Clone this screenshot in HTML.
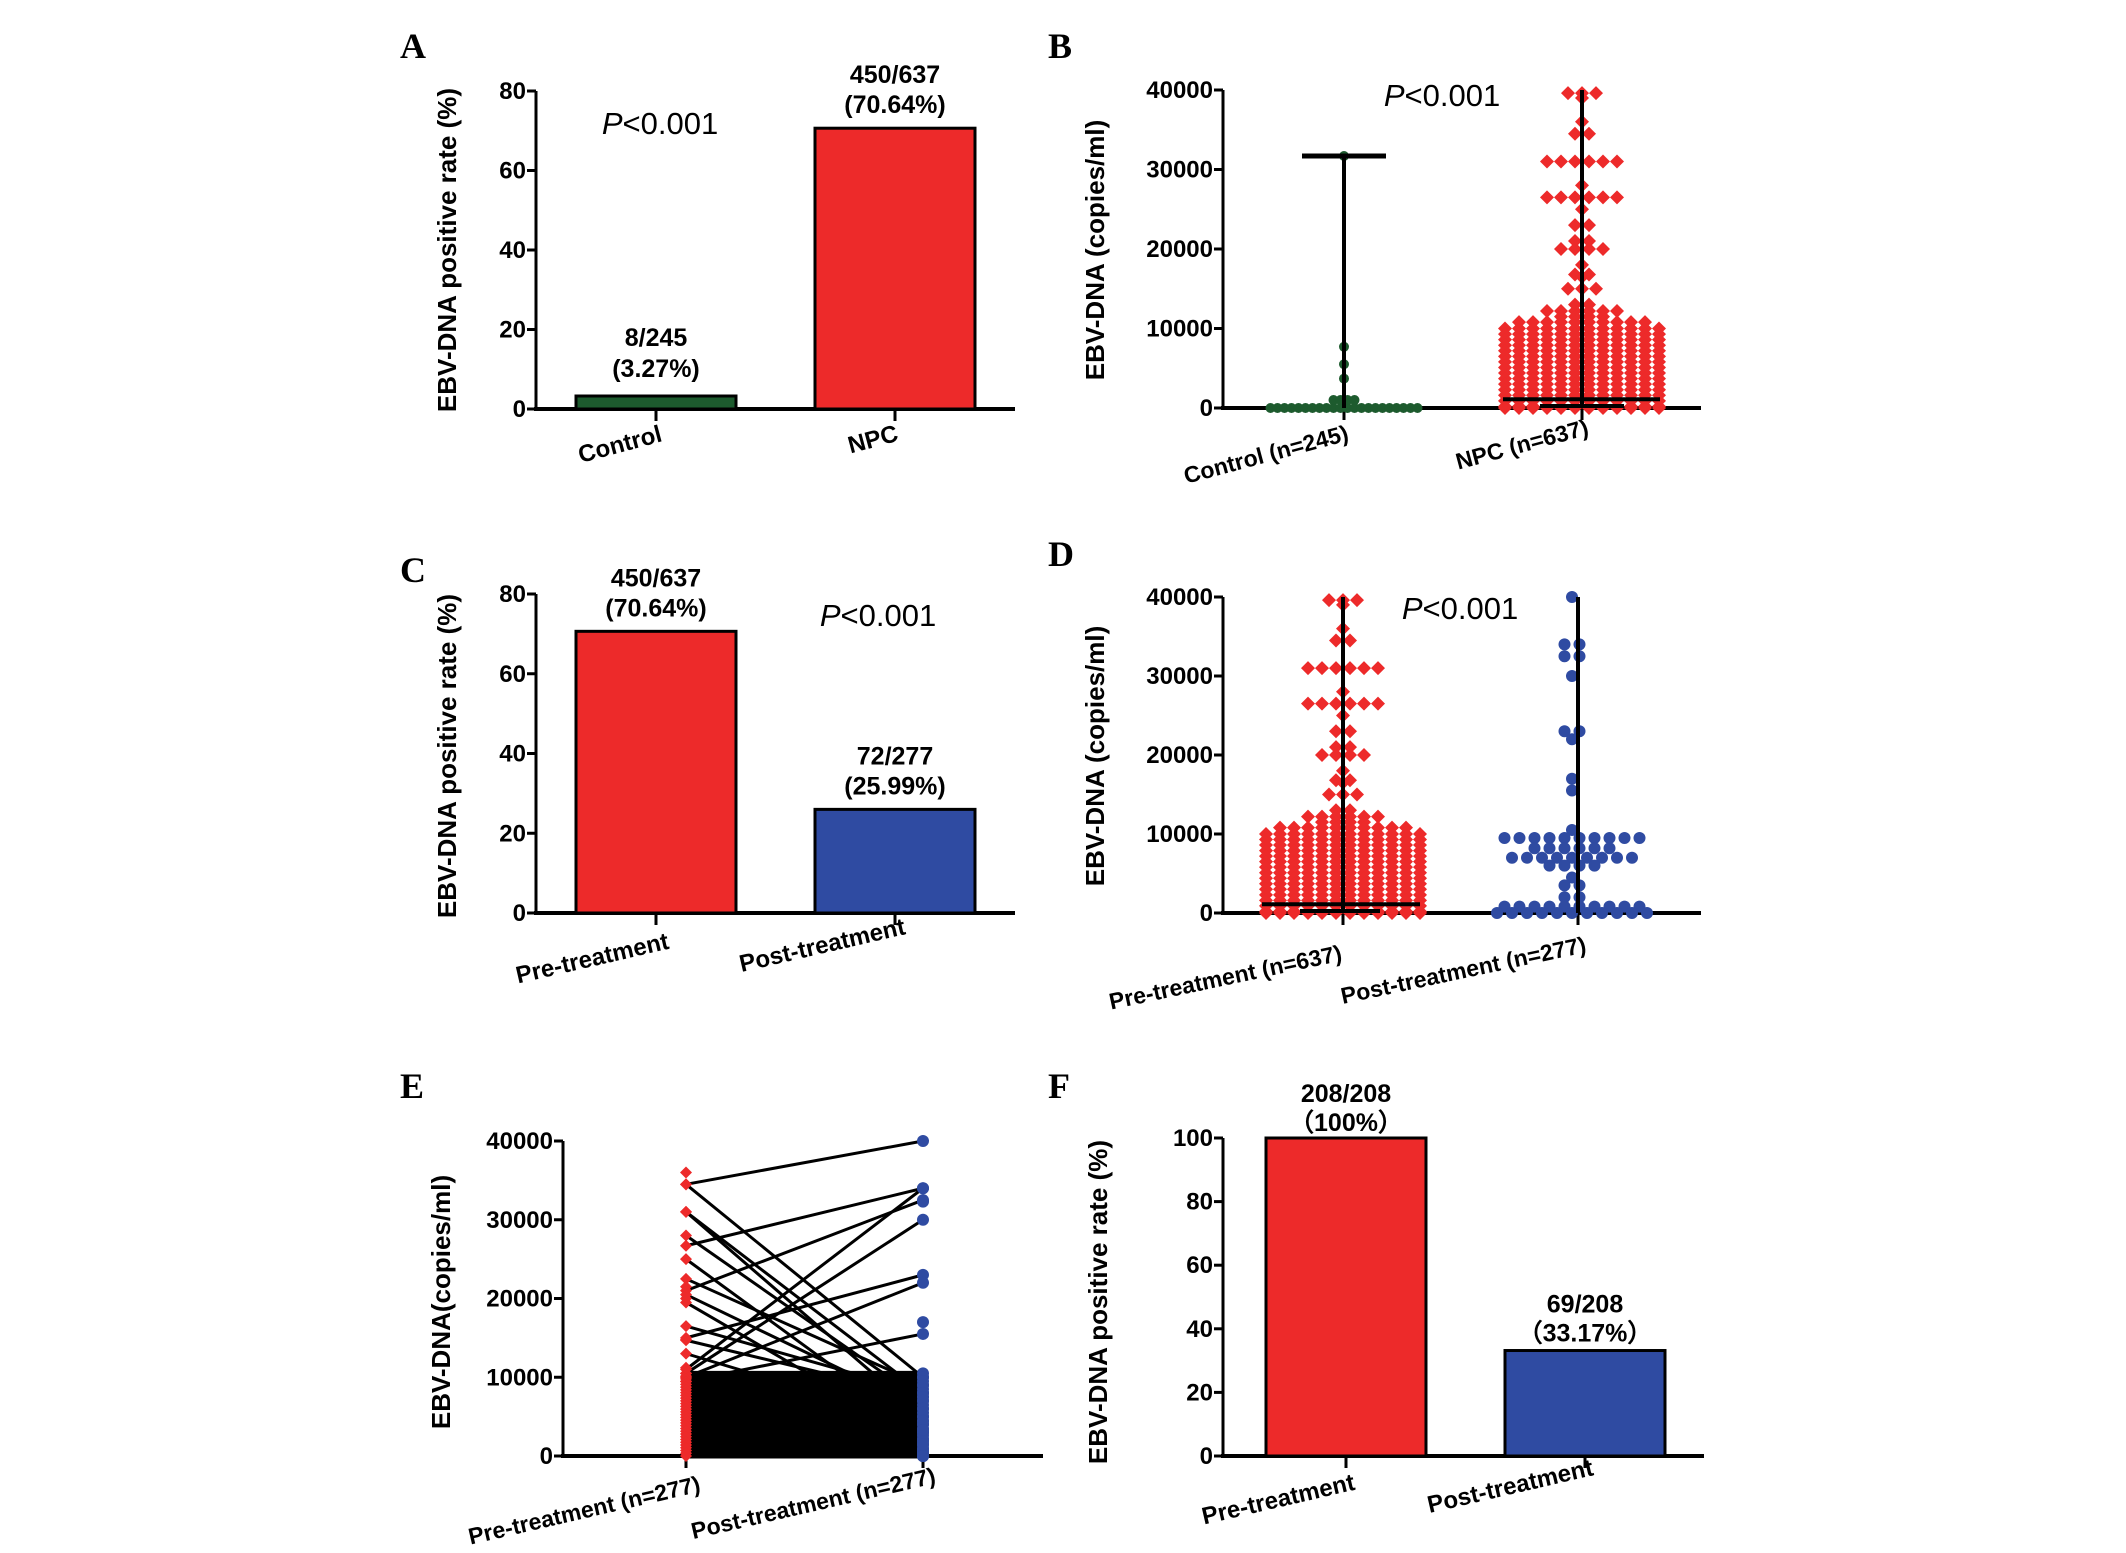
<!DOCTYPE html>
<html><head><meta charset="utf-8"><style>
html,body{margin:0;padding:0;background:#fff;}
svg{display:block;font-family:"Liberation Sans",Arial,sans-serif;}
</style></head><body>
<svg id="fig" width="2126" height="1553" viewBox="0 0 2126 1553" xmlns="http://www.w3.org/2000/svg"></svg>
<script>
// ---- data ----
const barACats = ["Control","NPC"];
const barAVals = [3.27, 70.64];
const barALbl1 = ["8/245","450/637"];
const barALbl2 = ["(3.27%)","(70.64%)"];
const barCCats = ["Pre-treatment","Post-treatment"];
const barCVals = [70.64, 25.99];
const barCLbl1 = ["450/637","72/277"];
const barCLbl2 = ["(70.64%)","(25.99%)"];
const barFCats = ["Pre-treatment","Post-treatment"];
const barFVals = [100, 33.17];
const barFLbl1 = ["208/208","69/208"];
const barFLbl2 = ["（100%）","（33.17%）"];
const pctTicks80 = [0,20,40,60,80];
const pctTicks100 = [0,20,40,60,80,100];
const copyTicks = [0,10000,20000,30000,40000];
// scatter rows: [value, count]
const controlRows = [[0,22],[1000,4],[3700,1],[5500,1],[7700,1],[31700,1]];
const npcRows = [[39600,3],[39000,1],[36000,1],[34500,2],[31000,6],[28000,1],[26500,6],[25000,1],[23000,2],[21000,2],[20000,4],[18000,1],[16800,2],[16500,1],[15000,3],[13000,2],[12200,6],[11500,4],
 [10800,10],[10000,12],[9300,12],[8600,12],[7900,12],[7200,12],[6500,12],[5800,12],[5100,12],[4400,12],[3700,12],[3000,12],[2300,12],[1600,12],[900,12],[200,12],[0,12]];
const postRows = [[40000,1],[34000,2],[32500,2],[30000,1],[23000,2],[22000,1],[17000,1],[15500,1],[10500,1],[9500,10],[8200,6],[7000,9],[6000,4],[4500,1],[3500,2],[2000,2],[800,10],[0,11]];
const controlMedian = 0, controlMax = 31700;
const npcMedian = 1100, npcLow = 0;
// paired (pre, post)
const pairPre = [34500,34500,31000,31000,28000,26700,25000,22500,21000,20500,19500,16500,15000,14700,13000,11000,10500,10000,9500,
 10500,10150,9800,9450,9100,8750,8400,8050,7700,7350,7000,6650,6300,5950,5600,5250,4900,4550,4200,3850,3500,3150,2800,2450,2100,1750,1400,1050,700,350,0];
const pairPost = [40000,10000,8000,5000,7000,34000,3000,9000,32500,6000,2000,8000,23000,7500,4000,34000,30000,22000,15500,
 10500,10000,9500,9000,8500,8000,7500,7000,6500,6000,5500,5000,4500,4000,3500,3000,2600,2200,1800,1400,1000,800,600,400,200,100,0,0,0,0,0];
const preExtra = [36000,21500,20000,14800,11200];
const postExtra = [32300,17000,4400,3300,1500];

// ---- helpers ----
const NS="http://www.w3.org/2000/svg";
const svg=document.getElementById('fig');
function mk(tag,attrs){const e=document.createElementNS(NS,tag);for(const k in attrs)e.setAttribute(k,attrs[k]);svg.appendChild(e);return e;}
function txt(x,y,s,size,opts){opts=opts||{};const e=mk('text',{x:x,y:y,'font-size':size,'text-anchor':opts.anchor||'middle','font-weight':opts.w||'bold',fill:'#000'});
 if(opts.family)e.setAttribute('font-family',opts.family);if(opts.rot!=null)e.setAttribute('transform','rotate('+opts.rot+' '+x+' '+y+')');e.textContent=s;return e;}
function scale(v,max,y0,y1){return y0-(v/max)*(y0-y1);}
function axes(name,x0,y0,y1,xEnd,ticks,max,xTicks){
 const ya=mk('line',{x1:x0,y1:y0,x2:x0,y2:y1,stroke:'#000','stroke-width':3});
 
 const xa=mk('line',{x1:x0-2,y1:y0,x2:xEnd,y2:y0,stroke:'#000','stroke-width':4});
 
 ticks.forEach(t=>{const y=scale(t,max,y0,y1);
  const l=mk('line',{x1:x0-9,y1:y,x2:x0,y2:y,stroke:'#000','stroke-width':3});
  
  const tl=txt(x0-10,y+8,String(t),24,{anchor:'end'});
  });
 xTicks.forEach(x=>{const l=mk('line',{x1:x,y1:y0,x2:x,y2:y0+12,stroke:'#000','stroke-width':3});
  });
}
function panelLetter(x,y,s){const e=txt(x,y,s,36,{family:'"Liberation Serif",serif',anchor:'start'});
 }
function yTitle(x,y,s,name){const e=txt(x,y,s,26,{rot:-90});
 }
function pval(x,y,name){const e=mk('text',{x:x,y:y,'font-size':31,'text-anchor':'middle',fill:'#000'});
 const a=document.createElementNS(NS,'tspan');a.setAttribute('font-style','italic');a.textContent='P';e.appendChild(a);
 const b=document.createElementNS(NS,'tspan');b.textContent='<0.001';e.appendChild(b);
 }
function xLabel(x,y,s,name,rot,size){const e=txt(x,y,s,size||24,{rot:rot});
 }
function bars(name,cats,vals,l1,l2,colors,x0,y0,y1,max,centers,w,offs){
 vals.forEach((v,i)=>{const yt=scale(v,max,y0,y1);
  const r=mk('rect',{x:centers[i]-w/2,y:yt,width:w,height:y0-yt,fill:colors[i],stroke:'#000','stroke-width':3});
  
  const a=txt(centers[i],yt-offs[i][0],l1[i],25);
  const b=txt(centers[i],yt-offs[i][1],l2[i],25);});
}
function diamond(cx,cy,s,fill,name){const p=mk('polygon',{points:(cx)+','+(cy-s)+' '+(cx+s)+','+cy+' '+cx+','+(cy+s)+' '+(cx-s)+','+cy,fill:fill});
 return p;}
function dot(cx,cy,r,fill,name){const c=mk('circle',{cx:cx,cy:cy,r:r,fill:fill});return c;}
function swarm(rows,cx,sp,y0,y1,max,shape,size,color,name){
 rows.forEach(([v,n])=>{const y=scale(v,max,y0,y1);
  for(let k=0;k<n;k++){const x=cx+(k-(n-1)/2)*sp;
   if(shape==='d')diamond(x,y,size,color,name);else dot(x,y,size,color,name);}});
}
function hline(x1,x2,y,w,name){const l=mk('line',{x1:x1,y1:y,x2:x2,y2:y,stroke:'#000','stroke-width':w});}
function vline(x,ya,yb,w,name){const l=mk('line',{x1:x,y1:ya,x2:x,y2:yb,stroke:'#000','stroke-width':w});}

const RED='#ED2A2A',GREEN='#1D5B2E',BLUE='#2F4BA2';

// ---- Panel A ----
panelLetter(400,58,'A');
axes('a',536,409,91,1015,pctTicks80,80,[656,895]);
bars('a',barACats,barAVals,barALbl1,barALbl2,[GREEN,RED],536,409,91,80,[656,895],160,[[50,19],[45,15]]);
pval(660,134,'a');
yTitle(456,250,'EBV-DNA positive rate (%)','a');
xLabel(622,452,'Control','a',-15);xLabel(875,447,'NPC','a',-15);

// ---- Panel B ----
panelLetter(1048,58,'B');
axes('b',1223,408,90,1701,copyTicks,40000,[1344,1582]);
swarm(controlRows,1344,7,408,90,40000,'c',5,GREEN,'control-point');
swarm(npcRows,1582,14,408,90,40000,'d',7,RED,'npc-point');
vline(1344,scale(controlMax,40000,408,90),408,4,'control-range-line');
hline(1302,1386,scale(controlMax,40000,408,90),5,'control-max-cap');
vline(1582,90,408,4,'npc-range-line');
hline(1503,1660,scale(npcMedian,40000,408,90),4,'npc-median-line');
hline(1540,1624,scale(npcLow,40000,408,90)-2,4,'npc-min-cap');
pval(1442,106,'b');
yTitle(1104,250,'EBV-DNA (copies/ml)','b');
xLabel(1268,462,'Control (n=245)','b',-15,23);xLabel(1524,452,'NPC (n=637)','b',-15,23);

// ---- Panel C ----
panelLetter(400,582,'C');
axes('c',536,913,594,1015,pctTicks80,80,[656,895]);
bars('c',barCCats,barCVals,barCLbl1,barCLbl2,[RED,BLUE],536,913,594,80,[656,895],160,[[45,15],[45,15]]);
pval(878,626,'c');
yTitle(456,756,'EBV-DNA positive rate (%)','c');
xLabel(594,966,'Pre-treatment','c',-13);xLabel(824,953,'Post-treatment','c',-13);

// ---- Panel D ----
panelLetter(1048,566,'D');
axes('d',1223,913,597,1701,copyTicks,40000,[1343,1578]);
swarm(npcRows,1343,14,913,597,40000,'d',7,RED,'pre-treatment-point');
swarm(postRows,1572,15,913,597,40000,'c',6,BLUE,'post-treatment-point');
vline(1343,597,913,4,'pre-range-line');
hline(1262,1420,scale(npcMedian,40000,913,597),4,'pre-median-line');
hline(1300,1380,scale(npcLow,40000,913,597)-2,4,'pre-min-cap');
vline(1578,597,913,4,'post-range-line');
pval(1460,619,'d');
yTitle(1104,756,'EBV-DNA (copies/ml)','d');
xLabel(1227,985,'Pre-treatment (n=637)','d',-12,23);xLabel(1465,978,'Post-treatment (n=277)','d',-12,23);

// ---- Panel E ----
panelLetter(400,1098,'E');
axes('e',563,1456,1141,1043,copyTicks,40000,[686,923]);
pairPre.forEach((p,i)=>{const l=mk('line',{x1:686,y1:scale(p,40000,1456,1141),x2:923,y2:scale(pairPost[i],40000,1456,1141),stroke:'#000','stroke-width':i<19?3:5});
 });
pairPre.concat(preExtra).forEach(p=>diamond(686,scale(p,40000,1456,1141),6,RED,'pre-paired-point'));
pairPost.concat(postExtra).forEach(p=>dot(923,scale(p,40000,1456,1141),6,BLUE,'post-paired-point'));
yTitle(450,1302,'EBV-DNA(copies/ml)','e');
xLabel(586,1518,'Pre-treatment (n=277)','e',-13,23);xLabel(815,1511,'Post-treatment (n=277)','e',-13,23);

// ---- Panel F ----
panelLetter(1048,1098,'F');
axes('f',1223,1456,1138,1704,pctTicks100,100,[1346,1585]);
bars('f',barFCats,barFVals,barFLbl1,barFLbl2,[RED,BLUE],1223,1456,1138,100,[1346,1585],160,[[36,7],[38,9]]);
yTitle(1107,1302,'EBV-DNA positive rate (%)','f');
xLabel(1280,1507,'Pre-treatment','f',-13);xLabel(1512,1494,'Post-treatment','f',-13);
</script>
</body></html>
